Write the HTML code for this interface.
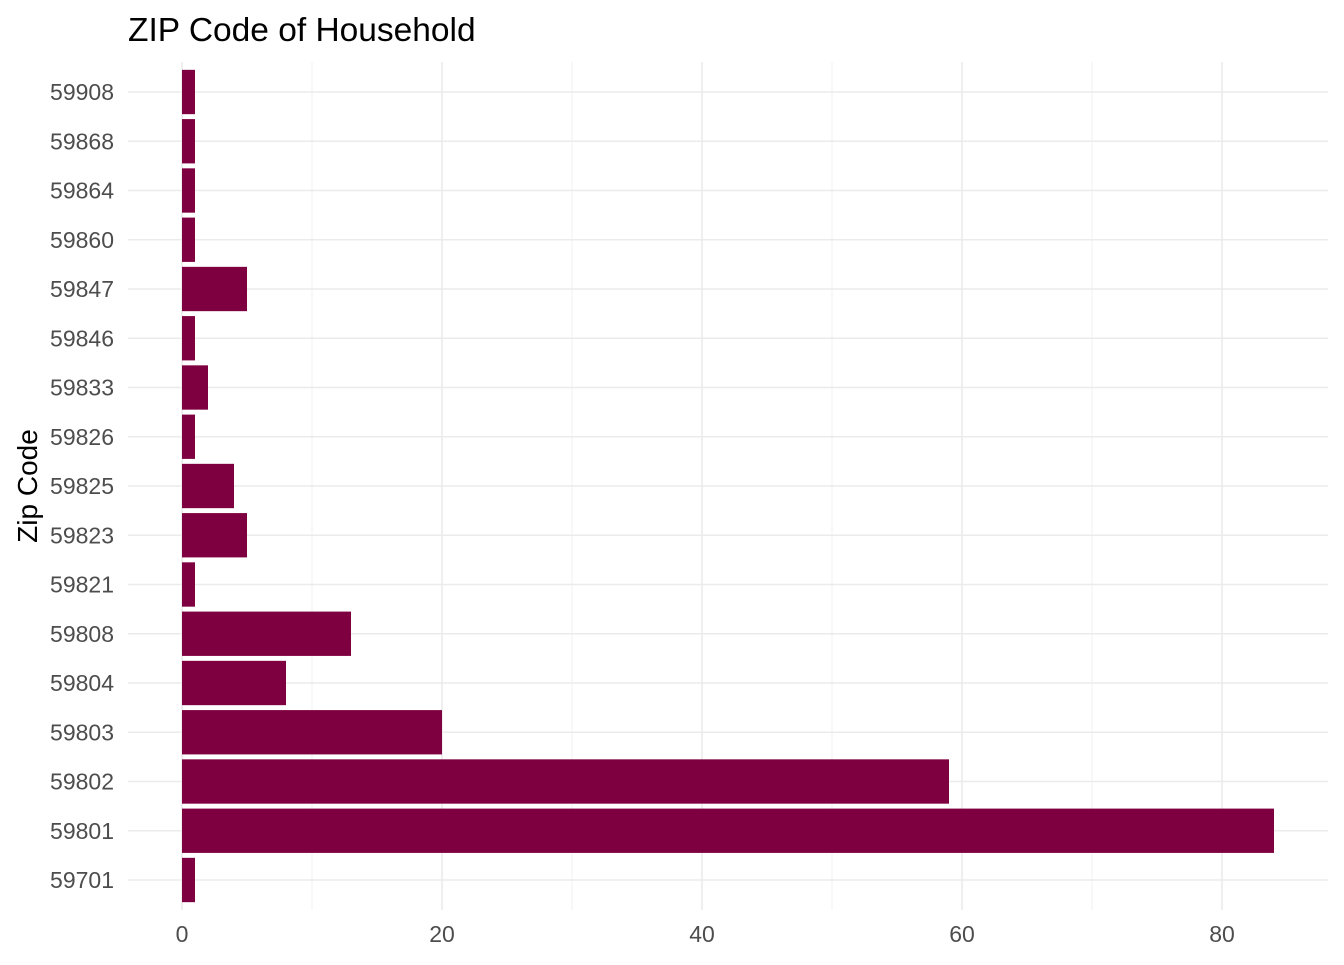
<!DOCTYPE html>
<html><head><meta charset="utf-8"><style>
body{margin:0;background:#fff;font-family:"Liberation Sans",Arial,sans-serif;}
</style></head><body>
<svg id="chart" width="1344" height="960" xmlns="http://www.w3.org/2000/svg">
<text x="128" y="41" font-size="33.5" fill="#000">ZIP Code of Household</text>
<text transform="translate(37,486) rotate(-90)" text-anchor="middle" font-size="28" fill="#000">Zip Code</text>
<g id="grid"></g><g id="bars"></g><g id="ylabels"></g><g id="xlabels"></g>
</svg>
<script>
const categories=["59908","59868","59864","59860","59847","59846","59833","59826","59825","59823","59821","59808","59804","59803","59802","59801","59701"];
const counts=[1,1,1,1,5,1,2,1,4,5,1,13,8,20,59,84,1];
const xTicks=[0,20,40,60,80];
const xMinor=[10,30,50,70];
const NS="http://www.w3.org/2000/svg";
const xs=v=>182+v*13;
const step=(880-92)/(categories.length-1);
const ys=i=>92+i*step;
const yTop=62,yBottom=910,pLeft=128,pRight=1328;
function mk(tag,attrs,parent){const e=document.createElementNS(NS,tag);for(const k in attrs)e.setAttribute(k,attrs[k]);parent.appendChild(e);return e;}
const grid=document.getElementById('grid'),bars=document.getElementById('bars'),yl=document.getElementById('ylabels'),xl=document.getElementById('xlabels');
xMinor.forEach(v=>{const l=mk('line',{x1:xs(v),x2:xs(v),y1:yTop,y2:yBottom,stroke:'#f0f0f0','stroke-width':1},grid);

});
xTicks.forEach(v=>{const l=mk('line',{x1:xs(v),x2:xs(v),y1:yTop,y2:yBottom,stroke:'#ebebeb','stroke-width':1.6},grid);


const t=mk('text',{x:xs(v),y:942,'text-anchor':'middle','font-size':23,fill:'#4d4d4d'},xl);t.textContent=v;

});
categories.forEach((c,i)=>{const l=mk('line',{x1:pLeft,x2:pRight,y1:ys(i),y2:ys(i),stroke:'#ebebeb','stroke-width':1.6},grid);


const h=step*0.9;
const r=mk('rect',{x:xs(0),y:ys(i)-h/2,width:xs(counts[i])-xs(0),height:h,fill:'#7f0040'},bars);


const t=mk('text',{x:114,y:ys(i)+8,'text-anchor':'end','font-size':23,fill:'#4d4d4d'},yl);t.textContent=c;

});
</script>
</body></html>
